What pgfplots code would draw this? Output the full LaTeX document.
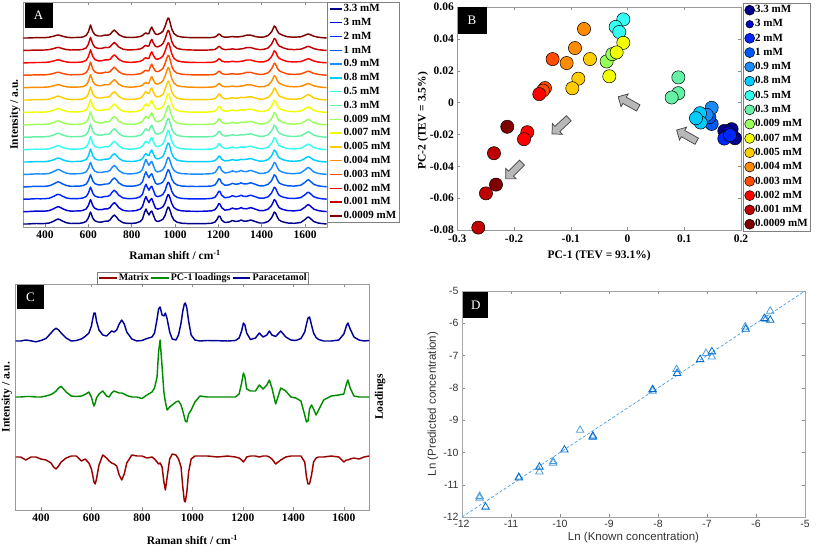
\documentclass[border=0pt]{standalone}
\usepackage{pgfplots}
\pgfplotsset{compat=1.18}
\usepackage{pgfplotstable}
\usepackage{fontspec}
\setmainfont{Liberation Serif}
\newfontfamily\arial{Liberation Sans}
\usetikzlibrary{shapes.arrows}

\definecolor{c1}{rgb}{0,0,0.55}
\definecolor{c2}{rgb}{0,0,0.85}
\definecolor{c3}{rgb}{0,0.15,1}
\definecolor{c4}{rgb}{0,0.35,0.95}
\definecolor{c5}{rgb}{0.1,0.55,1}
\definecolor{c6}{rgb}{0,0.8,1}
\definecolor{c7}{rgb}{0.2,1,0.95}
\definecolor{c8}{rgb}{0.4,0.95,0.65}
\definecolor{c9}{rgb}{0.6,1,0.35}
\definecolor{c10}{rgb}{0.95,1,0}
\definecolor{c11}{rgb}{1,0.8,0}
\definecolor{c12}{rgb}{1,0.55,0}
\definecolor{c13}{rgb}{1,0.3,0}
\definecolor{c14}{rgb}{1,0,0}
\definecolor{c15}{rgb}{0.75,0,0}
\definecolor{c16}{rgb}{0.5,0,0}
\definecolor{matc}{rgb}{0.6,0,0}
\definecolor{pcc}{rgb}{0,0.55,0}
\definecolor{parc}{rgb}{0,0,0.6}
\definecolor{dkb}{rgb}{0,0.42,0.8}
\definecolor{ltb}{rgb}{0.3,0.62,0.87}

\pgfplotstableread{
x aT aM aB cP cL cM
300 0 0 0 0 0 0
320 0 0 0 0 0 0
340 0.2 0.2 0.3 1 0.5 -3
360 0.3 0.4 0.5 0.2 0.5 0
380 0.3 0.3 0.4 -0.8 0 0
400 0.4 0.4 0.5 0.5 0 -2
420 0.8 0.9 1.0 2.5 1 -3
440 1.8 2.2 2.8 8 2.5 -6
450 2.5 3.2 4 11 4 -10
460 3 4 5 12.7 6 -12
470 2.6 3.4 4.3 11 9 -9
480 1.8 2.3 3 8 10.7 -5
500 0.8 1 1.2 3 5 -1
520 0.4 0.4 0.5 0 1 1
540 0.5 0.5 0.6 0.5 0.5 1
560 0.6 0.6 0.7 2 1 -4
575 1.0 1.1 1.2 4.5 2.5 -2
590 2.5 2.5 2.6 8 5 -6
600 6 6 6 15 0 -12
605 9.5 9.5 9 22 -5 -18
610 13 13 12 28 -9 -25
615 10 10 9.5 28 -6 -27
620 6.5 6.3 6.2 20 -1 -22
630 3.3 3.2 3.2 11 3 -8
645 2.0 2 2.0 6 6 2
660 2.0 2 1.9 5 1 -1
670 2.5 2.5 2.4 7.5 0 -4
680 3 2.9 2.8 10 4 -6
690 2.8 2.8 2.8 9 6 -7
700 3.5 3.8 4 11 5 -9
710 6 6.5 7 17 4 -18
720 8 8.5 9 21 4 -23
730 6 6.5 7 17 3 -17
740 3.5 3.8 4 9 1.5 -6
760 1.2 1.2 1.3 2 0 2
780 0.6 0.6 0.6 0 0 1
800 0.5 0.5 0.6 0.5 -1.5 1
820 0.8 0.9 1 2.5 2 -1
840 1.5 2 2.5 4 5 0
850 2.5 3.5 5 8 9 -2
860 4.5 7 12 22 20 -5
866 5 8.5 15 32 45 -7
872 4.2 7 12 34 57 -6
880 4.5 6.5 9 26 30 -10
887 9 10.5 12 25 5 -25
893 11 12 13 28 -5 -33
900 7.5 8 9 22 -13 -20
910 4 3.8 3.5 9 -10 -2
920 3.5 3 2.5 2 -8 3
935 5 4.2 3.5 1 -5 2
945 7 6 5 6 -4 -2
955 12 11 9 18 -8 -10
962 17 16 14 30 -14 -30
968 20 19 17 37 -20 -44
972 19.5 18.5 16.5 38 -24 -45
978 15 14 13 33 -25 -35
985 9 8.5 8 20 -17 -15
995 4.5 4.2 4 6 -13 -2
1010 2 1.9 1.8 1 -5 1
1030 1 0.9 0.8 0 1 1
1060 0.5 0.4 0.4 0.5 0 1
1100 0.3 0.3 0.3 0.3 0 0
1140 0.3 0.3 0.4 0 0 1
1170 0.5 0.6 0.8 0.5 0 0
1185 1 1.5 2 3 3 -1
1195 2.5 3.5 5 10 14 -3
1202 4 6 8 18 24 -5
1208 3.5 5.5 7.5 16 20 -3
1215 1.8 2.8 4 8 8 0
1230 0.8 1.1 1.5 1.5 6 1
1250 1 1.5 2 3 6 1
1265 1.5 2.5 3.5 8 12 0
1280 1 1.7 2.5 4 8 1
1295 1.2 2 3 6 12 1
1305 1.5 2.7 4 10 17 0
1315 1.8 2.3 3 6 9 -2
1330 2.8 2.8 2.8 4.5 -7 -7
1350 2.8 3.4 4 10 9 -3
1370 1.5 2 2.5 4 6 0
1390 0.8 0.9 1 1 0 1
1410 1 1 1 0.5 -1 1
1430 2.5 2.5 2.5 2.5 -4 1
1445 6 6 6 9 -18 -5
1452 9 9 9 17 -25 -20
1458 12 12 12 23 -24 -27
1464 11 11 11 24 -12 -27
1472 7 7 7 16 -8 -18
1480 4.5 4.2 4 8 -12 -5
1490 3.5 3.2 2.8 3.5 -18 -1
1500 2.5 2.2 2 1.5 -13 0
1520 1.2 1.1 1 0 -3 0
1550 0.8 0.7 0.7 0 1 1
1580 1.2 1.3 1.5 1 2 0
1600 2.8 3.6 4.5 7 3 -5
1610 3.8 5 6.5 15 13 -3
1616 4 5.5 7 18 17 -3
1625 3.3 4.4 5.5 12 9 -2
1640 1.8 2.1 2.5 4 1 -1
1660 0.8 0.9 1 1 0 -2
1680 0.3 0.3 0.4 0 0 0
1700 0 0 0 0.5 0 1
}\spec

\tikzset{
  panel/.style={fill=black, text=white, inner sep=0pt, font=\fontsize{13}{13}\selectfont, anchor=north west},
  garrow/.style={single arrow, draw=black!75, fill=black!28, line width=0.7pt, minimum height=23pt,
    inner sep=3.2pt, single arrow head extend=3.8pt},
}
\pgfplotsset{
  mat/.style={scale only axis, clip=false, tick align=inside, scaled ticks=false,
    axis line style={black!40}, major tick length=3pt,
    every tick/.style={black!45},
    tick label style={font=\bfseries\fontsize{11.5}{13}\selectfont},
    label style={font=\bfseries\fontsize{11.5}{13}\selectfont},
    legend cell align=left},
  leg16/.style={legend style={at={(1,1)}, anchor=north west,
    draw=black!50, font=\bfseries\fontsize{11}{12}\selectfont,
    row sep=4.3pt, inner sep=2pt,
    nodes={inner sep=0.5pt, text height=7pt, text depth=1.5pt, anchor=west}}},
  spec/.style={line width=1.45pt, line join=round},
  dot/.style={only marks, mark=*, mark size=6.6pt, mark options={fill=#1, draw=black, line width=0.5pt},
    legend image code/.code={\draw[##1, mark size=5pt] plot coordinates {(0.17cm,0cm)};}},
  smalldot/.style={legend image code/.code={\draw[##1, mark size=3.8pt] plot coordinates {(0.17cm,0cm)};}},
  lineleg/.style={legend image code/.code={\draw[##1] (0cm,0cm) -- (#1,0cm);}},
}

\begin{document}
\begin{tikzpicture}
\useasboundingbox (0pt,0pt) rectangle (817pt,547pt);

% ---------- Panel A ----------
\begin{axis}[mat, leg16, at={(23.3pt,320pt)}, anchor=south west, width=303.4pt, height=225pt,
  xmin=300, xmax=1700, ymin=0, ymax=225,
  xtick={400,600,800,1000,1200,1400,1600}, xticklabels={400,600,800,1000,1200,1400,1600},
  ytick=\empty,
  xlabel={Raman shift / cm\textsuperscript{-1}}, ylabel={Intensity / a.u.},
  x label style={at={(axis description cs:0.5,-0.124)}, anchor=center},
  y label style={at={(axis description cs:-0.027,0.5)}, anchor=center},
  lineleg=0.45cm]
\addplot[spec, c1] table[x=x, y expr=\thisrow{aB}+3]{\spec}; \addlegendentry{3.3 mM}
\addplot[spec, c2] table[x=x, y expr=\thisrow{aB}+15.4]{\spec}; \addlegendentry{3 mM}
\addplot[spec, c3] table[x=x, y expr=\thisrow{aB}+27.8]{\spec}; \addlegendentry{2 mM}
\addplot[spec, c4] table[x=x, y expr=\thisrow{aB}+40.2]{\spec}; \addlegendentry{1 mM}
\addplot[spec, c5] table[x=x, y expr=\thisrow{aB}+52.6]{\spec}; \addlegendentry{0.9 mM}
\addplot[spec, c6] table[x=x, y expr=\thisrow{aM}+65]{\spec}; \addlegendentry{0.8 mM}
\addplot[spec, c7] table[x=x, y expr=\thisrow{aM}+77.4]{\spec}; \addlegendentry{0.5 mM}
\addplot[spec, c8] table[x=x, y expr=\thisrow{aM}+89.8]{\spec}; \addlegendentry{0.3 mM}
\addplot[spec, c9] table[x=x, y expr=\thisrow{aM}+102.2]{\spec}; \addlegendentry{0.009 mM}
\addplot[spec, c10] table[x=x, y expr=\thisrow{aM}+114.6]{\spec}; \addlegendentry{0.007 mM}
\addplot[spec, c11] table[x=x, y expr=\thisrow{aM}+127]{\spec}; \addlegendentry{0.005 mM}
\addplot[spec, c12] table[x=x, y expr=\thisrow{aT}+139.4]{\spec}; \addlegendentry{0.004 mM}
\addplot[spec, c13] table[x=x, y expr=\thisrow{aT}+151.8]{\spec}; \addlegendentry{0.003 mM}
\addplot[spec, c14] table[x=x, y expr=\thisrow{aT}+164.2]{\spec}; \addlegendentry{0.002 mM}
\addplot[spec, c15] table[x=x, y expr=\thisrow{aT}+176.6]{\spec}; \addlegendentry{0.001 mM}
\addplot[spec, c16] table[x=x, y expr=\thisrow{aT}+189]{\spec}; \addlegendentry{0.0009 mM}
\node[panel, minimum width=28pt, minimum height=25pt] at ([xshift=1pt,yshift=-1pt]rel axis cs:0,1) {A};
\end{axis}

% ---------- Panel B ----------
\begin{axis}[mat, leg16, at={(457.3pt,317pt)}, anchor=south west, width=283.7pt, height=223pt,
  xmin=-0.3, xmax=0.2, ymin=-0.08, ymax=0.06,
  xtick={-0.3,-0.2,-0.1,0,0.1,0.2}, xticklabels={-0.3,-0.2,-0.1,0,0.1,0.2},
  ytick={-0.08,-0.06,-0.04,-0.02,0,0.02,0.04,0.06},
  yticklabels={-0.08,-0.06,-0.04,-0.02,0,0.02,0.04,0.06},
  xticklabel style={yshift=-1.5pt},
  legend style={at={(1,1)}, anchor=north west, xshift=1.5pt, yshift=4pt},
  xlabel={PC-1 (TEV = 93.1\%)}, ylabel={PC-2 (TEV = 3.5\%)},
  x label style={at={(axis description cs:0.5,-0.117)}, anchor=center},
  y label style={at={(axis description cs:-0.121,0.49)}, anchor=center}]
\addplot[dot=c1] coordinates {(0.1706,-0.0178) (0.1835,-0.0167) (0.1894,-0.0224)}; \addlegendentry{3.3 mM}
\addplot[dot=c2, smalldot] coordinates {(0.1777,-0.0192) (0.1736,-0.0213)}; \addlegendentry{3 mM}
\addplot[dot=c3] coordinates {(0.1706,-0.0226) (0.1806,-0.0205)}; \addlegendentry{2 mM}
\addplot[dot=c4] coordinates {(0.1483,-0.0134) (0.1442,-0.0092)}; \addlegendentry{1 mM}
\addplot[dot=c5] coordinates {(0.1483,-0.0033) (0.1395,-0.0077)}; \addlegendentry{0.9 mM}
\addplot[dot=c6] coordinates {(0.1277,-0.0067) (0.1289,-0.0125) (0.1207,-0.0098)}; \addlegendentry{0.8 mM}
\addplot[dot=c7] coordinates {(-0.0074,0.0522) (-0.0209,0.0475) (-0.0145,0.0443)}; \addlegendentry{0.5 mM}
\addplot[dot=c8] coordinates {(0.0896,0.0158) (0.0896,0.0059) (0.0778,0.0032)}; \addlegendentry{0.3 mM}
\addplot[dot=c9] coordinates {(-0.0368,0.0258) (-0.0268,0.0304)}; \addlegendentry{0.009 mM}
\addplot[dot=c10] coordinates {(-0.0074,0.0375) (-0.0192,0.0315) (-0.0321,0.0165)}; \addlegendentry{0.007 mM}
\addplot[dot=c11] coordinates {(-0.0662,0.0273) (-0.0867,0.0150) (-0.0973,0.0090)}; \addlegendentry{0.005 mM}
\addplot[dot=c12] coordinates {(-0.0767,0.0462) (-0.0926,0.0342) (-0.1073,0.0248)}; \addlegendentry{0.004 mM}
\addplot[dot=c13] coordinates {(-0.1320,0.0273) (-0.1455,0.0091) (-0.1490,0.0075)}; \addlegendentry{0.003 mM}
\addplot[dot=c14] coordinates {(-0.1555,0.0053) (-0.1766,-0.0186) (-0.1825,-0.0230)}; \addlegendentry{0.002 mM}
\addplot[dot=c15] coordinates {(-0.2354,-0.0318) (-0.2495,-0.0570) (-0.2630,-0.0785)}; \addlegendentry{0.001 mM}
\addplot[dot=c16] coordinates {(-0.2119,-0.0152) (-0.2318,-0.0515)}; \addlegendentry{0.0009 mM}
\node[garrow, rotate=151] at (axis cs:0.004,-0.0004) {};
\node[garrow, rotate=151] at (axis cs:0.107,-0.0213) {};
\node[garrow, rotate=223] at (axis cs:-0.116,-0.014) {};
\node[garrow, rotate=225] at (axis cs:-0.198,-0.042) {};
\node[panel, minimum width=29pt, minimum height=27pt] at (rel axis cs:0,1) {B};
\end{axis}

% ---------- Panel C ----------
\begin{axis}[mat, at={(15.7pt,37pt)}, anchor=south west, width=353.4pt, height=226pt,
  xmin=300, xmax=1700, ymin=0, ymax=226,
  xtick={400,600,800,1000,1200,1400,1600}, xticklabels={400,600,800,1000,1200,1400,1600},
  ytick=\empty,
  xlabel={Raman shift / cm\textsuperscript{-1}}, ylabel={Intensity / a.u.},
  x label style={at={(axis description cs:0.5,-0.133)}, anchor=center},
  y label style={at={(axis description cs:-0.025,0.5)}, anchor=center},
  legend columns=3,
  legend style={at={(0.23,1)}, anchor=south west, draw=black!50, inner sep=1pt,
    font=\bfseries\fontsize{10}{11}\selectfont,
    nodes={inner sep=0.5pt, text height=7pt, text depth=1.5pt},
    /tikz/every even column/.append style={column sep=1pt},
    /tikz/every odd column/.append style={column sep=1pt}},
  lineleg=0.62cm]
\addplot[spec, matc] table[x=x, y expr=\thisrow{cM}+53]{\spec}; \addlegendentry{Matrix}
\addplot[spec, pcc] table[x=x, y expr=\thisrow{cL}+113]{\spec}; \addlegendentry{PC-1 loadings}
\addplot[spec, parc] table[x=x, y expr=\thisrow{cP}+169]{\spec}; \addlegendentry{Paracetamol}
\node[rotate=90, font=\bfseries\fontsize{11.5}{13}\selectfont] at (axis description cs:1.031,0.5) {Loadings};
\node[panel, minimum width=27pt, minimum height=24pt] at ([xshift=1pt,yshift=-1pt]rel axis cs:0,1) {C};
\end{axis}

% ---------- Panel D ----------
\begin{axis}[scale only axis, clip=false, scaled ticks=false, at={(462pt,30pt)}, anchor=south west, width=343pt, height=226pt,
  xmin=-12, xmax=-5, ymin=-12, ymax=-5, tick align=inside,
  axis line style={black!35}, major tick length=3pt, every tick/.style={black!45},
  xtick={-12,-11,-10,-9,-8,-7,-6,-5}, xticklabels={-12,-11,-10,-9,-8,-7,-6,-5},
  ytick={-12,-11,-10,-9,-8,-7,-6,-5}, yticklabels={-12,-11,-10,-9,-8,-7,-6,-5},
  tick label style={font=\arial\fontsize{10.5}{12}\selectfont, text=black!80},
  label style={font=\arial\fontsize{11.5}{13}\selectfont, text=black!80},
  xlabel={Ln (Known concentration)}, ylabel={Ln (Predicted concentration)},
  x label style={at={(axis description cs:0.5,-0.093)}, anchor=center},
  y label style={at={(axis description cs:-0.085,0.5)}, anchor=center}]
\addplot[ltb, line width=0.7pt, dash pattern=on 3pt off 2pt] coordinates {(-12,-12) (-5,-5)};
\addplot[only marks, mark=triangle, mark size=4.3pt, ltb, mark options={line width=0.8pt}] coordinates {
(-11.64,-11.36) (-11.64,-11.41) (-10.84,-10.76) (-10.42,-10.60) (-10.14,-10.28) (-10.14,-10.33)
(-9.59,-9.31) (-9.33,-9.53) (-8.11,-8.10) (-7.62,-7.43) (-7.02,-6.93) (-6.90,-7.04)
(-6.22,-6.11) (-5.80,-5.87) (-5.71,-5.62)};
\addplot[only marks, mark=triangle, mark size=4.3pt, dkb, mark options={line width=0.8pt}] coordinates {
(-11.52,-11.69) (-10.84,-10.79) (-10.42,-10.45) (-9.91,-9.92) (-9.33,-9.49) (-8.11,-8.05)
(-7.61,-7.55) (-7.14,-7.12) (-6.90,-6.88) (-6.21,-6.18) (-5.83,-5.85) (-5.71,-5.90)};
\node[panel, minimum width=25pt, minimum height=26pt] at ([xshift=1pt,yshift=-1pt]rel axis cs:0,1) {D};
\end{axis}
\end{tikzpicture}
\end{document}
